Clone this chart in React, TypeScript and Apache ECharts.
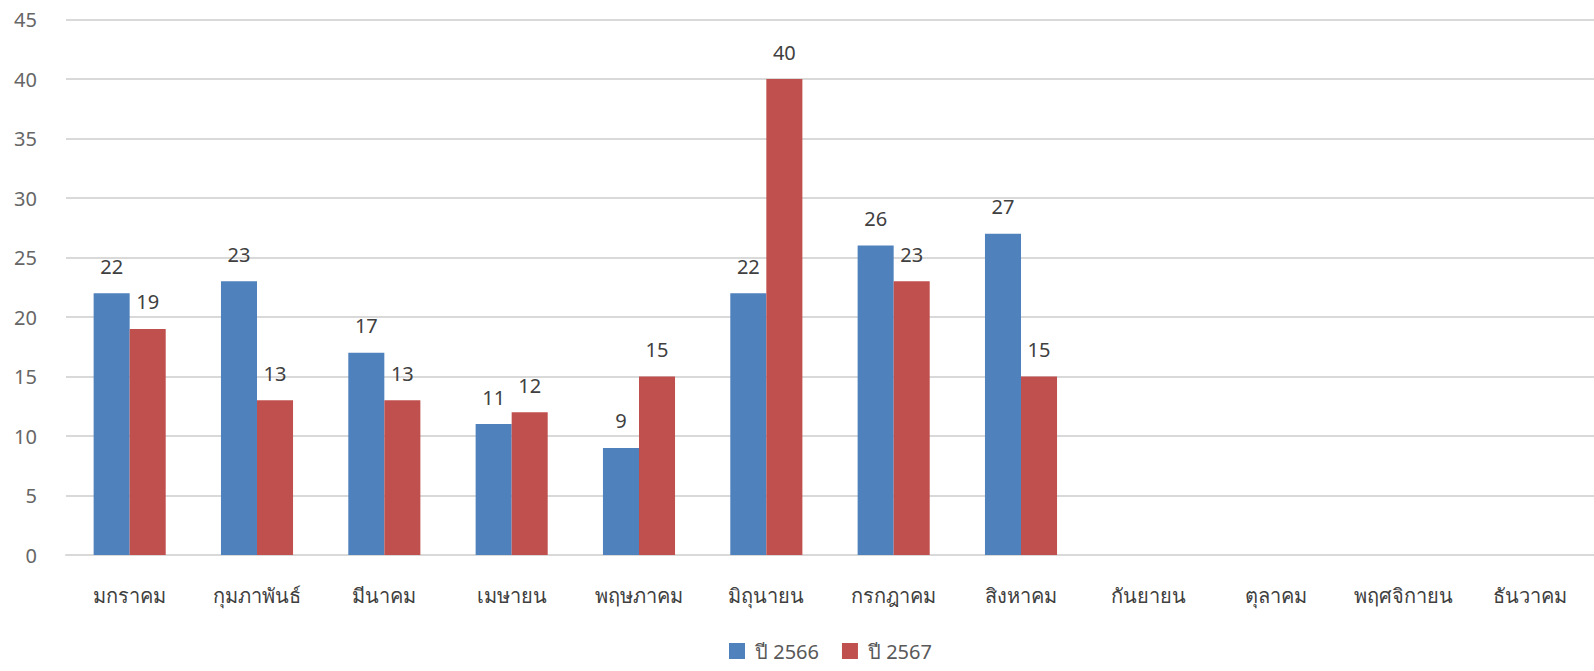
import React, { useEffect, useRef } from "react";
import * as echarts from "echarts";

const categories = [
  "มกราคม",
  "กุมภาพันธ์",
  "มีนาคม",
  "เมษายน",
  "พฤษภาคม",
  "มิถุนายน",
  "กรกฎาคม",
  "สิงหาคม",
  "กันยายน",
  "ตุลาคม",
  "พฤศจิกายน",
  "ธันวาคม",
];
const series2566 = [22, 23, 17, 11, 9, 22, 26, 27, null, null, null, null];
const series2567 = [19, 13, 13, 12, 15, 40, 23, 15, null, null, null, null];
const seriesNames = ["ปี 2566", "ปี 2567"];

const FONT = "'Noto Sans', 'DejaVu Sans', sans-serif";

export default function App() {
  const ref = useRef<HTMLDivElement>(null);
  useEffect(() => {
    if (!ref.current) return;
    const chart = echarts.init(ref.current, null, { renderer: "svg" });
    const labelStyle = {
      show: true,
      position: "top" as const,
      distance: 17,
      fontSize: 20,
      color: "#404040",
      fontFamily: FONT,
    };
    chart.setOption({
      animation: false,
      textStyle: { fontFamily: FONT },
      grid: { left: 66, right: 0, top: 19.5, bottom: 116, containLabel: false },
      legend: {
        top: 641,
        left: 729,
        padding: 0,
        itemWidth: 16,
        itemHeight: 16,
        itemGap: 23,
        icon: "rect",
        textStyle: { fontSize: 20, color: "#595959", fontFamily: FONT, padding: [0, 0, 0, 5] },
        data: seriesNames,
      },
      xAxis: {
        type: "category",
        data: categories,
        axisLine: { lineStyle: { color: "#D9D9D9", width: 2 } },
        axisTick: { show: false },
        axisLabel: { fontSize: 20, color: "#404040", margin: 30, fontFamily: FONT, interval: 0 },
      },
      yAxis: {
        type: "value",
        min: 0,
        max: 45,
        interval: 5,
        axisLine: { show: false },
        axisTick: { show: false },
        splitLine: { lineStyle: { color: "#D9D9D9", width: 2 } },
        axisLabel: { fontSize: 20, color: "#666666", margin: 29, fontFamily: FONT },
      },
      series: [
        {
          name: seriesNames[0],
          type: "bar",
          data: series2566,
          barWidth: "28.3%",
          barGap: "0%",
          itemStyle: { color: "#4F81BD" },
          label: labelStyle,
        },
        {
          name: seriesNames[1],
          type: "bar",
          data: series2567,
          barWidth: "28.3%",
          barGap: "0%",
          itemStyle: { color: "#C0504D" },
          label: labelStyle,
        },
      ],
    });
    return () => chart.dispose();
  }, []);
  return (
    <div
      ref={ref}
      style={{ position: "absolute", left: 0, top: 0, width: 1594, height: 671 }}
    />
  );
}
